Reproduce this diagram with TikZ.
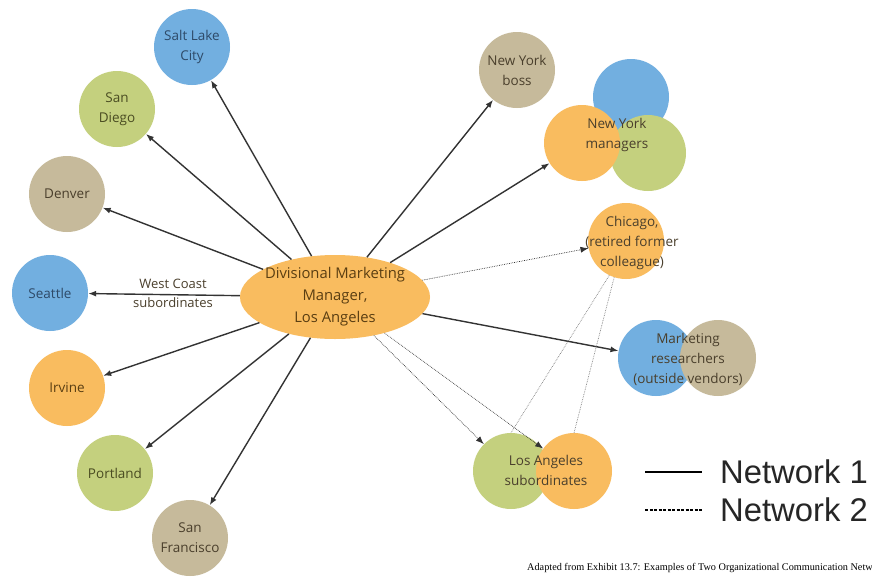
\documentclass[tikz,border=0pt]{standalone}
\usepackage{fontspec}
\setmainfont{Open Sans}
\newfontfamily\legendfont{Liberation Sans}
\newfontfamily\captionfont{Liberation Serif}
\usetikzlibrary{shapes.geometric,arrows.meta}

\definecolor{cblue}{HTML}{72AFE0}
\definecolor{cgreen}{HTML}{C4D07E}
\definecolor{ctan}{HTML}{C6BA9B}
\definecolor{corange}{HTML}{F9BC5F}
\definecolor{tblue}{HTML}{2E4A68}
\definecolor{tgreen}{HTML}{4A4C22}
\definecolor{ttan}{HTML}{4A3F2C}
\definecolor{torange}{HTML}{5A3E12}
\definecolor{linkgray}{HTML}{333333}

\tikzset{
  city/.style={circle, minimum size=76pt, inner sep=0pt, align=center,
    font=\fontsize{13.5}{20}\selectfont},
  bluec/.style={city, fill=cblue, text=tblue},
  greenc/.style={city, fill=cgreen, text=tgreen},
  tanc/.style={city, fill=ctan, text=ttan},
  orangec/.style={city, fill=corange, text=torange},
  label/.style={inner sep=0pt, align=center, font=\fontsize{13.5}{20}\selectfont, text=ttan},
  net1/.style={draw=linkgray, line width=1.4pt, -{Latex[length=8pt,width=6pt]}},
  net2/.style={draw=linkgray, line width=0.7pt, densely dotted, -{Latex[length=8pt,width=6pt]}},
  net2line/.style={draw=gray, line width=0.7pt, densely dotted},
}

\begin{document}
\begin{tikzpicture}[x=1pt,y=-1pt]
\clip (0,0) rectangle (872,579);
\fill[white] (0,0) rectangle (872,579);

% central manager
\node[ellipse, fill=corange, text=torange, minimum width=190pt, minimum height=84pt,
  inner sep=-3pt, align=center, font=\fontsize{14.8}{22}\selectfont]
  (mgr) at (335,297) {Divisional Marketing\\Manager,\\Los Angeles};

% west coast subordinates
\node[bluec]   (slc)  at (192,47)  {Salt Lake\\City};
\node[greenc]  (sd)   at (117,109) {San\\Diego};
\node[tanc]    (den)  at (67,194)  {Denver};
\node[bluec]   (sea)  at (50,293)  {Seattle};
\node[orangec] (irv)  at (67,388)  {Irvine};
\node[greenc]  (por)  at (115,473) {Portland};
\node[tanc]    (sf)   at (190,538) {San\\Francisco};

% New York contacts
\node[tanc]    (nyb)  at (517,70)  {New York\\boss};
\node[bluec]   (nymb) at (631,97)  {};
\node[greenc]  (nymg) at (648,153) {};
\node[orangec] (nymo) at (582,143) {};
\node[label]   (nyml) at (617,135) {New York\\managers};

% Chicago
\node[orangec] (chi) at (626,241) {};
\node[label]   (chil) at (632,243) {Chicago,\\(retired former\\colleague)};

% marketing researchers
\node[bluec]   (mrb) at (656,358) {};
\node[tanc]    (mrt) at (718,358) {};
\node[label]   (mrl) at (688,359) {Marketing\\researchers\\(outside vendors)};

% Los Angeles subordinates
\node[greenc]  (lag) at (511,471) {};
\node[orangec] (lao) at (574,471) {};
\node[label]   (lal) at (546,470) {Los Angeles\\subordinates};

% network 1 links
\draw[net1] (mgr) -- (slc);
\draw[net1] (mgr) -- (sd);
\draw[net1] (mgr) -- (den);
\draw[net1] (mgr) -- (sea);
\draw[net1] (mgr) -- (irv);
\draw[net1] (mgr) -- (por);
\draw[net1] (mgr) -- (sf);
\draw[net1] (mgr) -- (nyb);
\draw[net1] (mgr) -- (nymo);
\draw[net1] (mgr) -- (mrb);
\node[label, font=\fontsize{13}{19}\selectfont] (wcl) at (173,293) {West Coast\\subordinates};

% network 2 links
\draw[net2] (mgr) -- (chi);
\draw[net2] (mgr) -- (lag);
\draw[net2] (mgr) -- (lao);
\draw[net2line] (chi.244) -- (lag.north);
\draw[net2line] (chi.252) -- (lao.north);

% legend
\coordinate (l1a) at (645,472);
\coordinate (l1b) at (702,472);
\coordinate (l2a) at (645,510);
\coordinate (l2b) at (702,510);
\draw[line width=1.8pt, black] (l1a) -- (l1b);
\draw[line width=1.8pt, black, dash pattern=on 3pt off 1.5pt] (l2a) -- (l2b);
\node[anchor=west, inner sep=0pt, font=\legendfont\fontsize{32.8}{34}\selectfont, text=black!85]
  (n1) at (720,472) {Network 1};
\node[anchor=west, inner sep=0pt, font=\legendfont\fontsize{32.8}{34}\selectfont, text=black!85]
  (n2) at (720,510) {Network 2};

% source line, running off the right edge
\node[anchor=west, inner sep=0pt, font=\captionfont\fontsize{10.25}{12}\selectfont]
  (src) at (527,568) {Adapted from Exhibit 13.7: Examples of Two Organizational Communication Networks};
\end{tikzpicture}
\end{document}
